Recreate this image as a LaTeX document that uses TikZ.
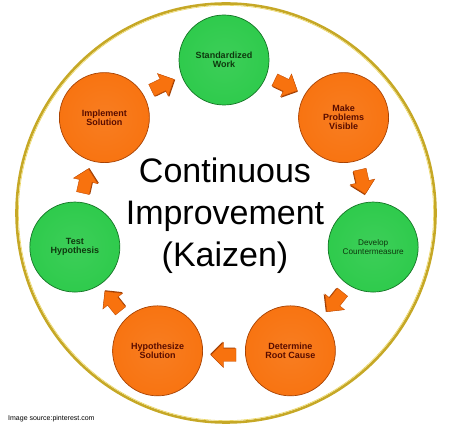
\documentclass[tikz,border=0pt]{standalone}
\usepackage{fontspec}
\setmainfont{Liberation Sans}
\usetikzlibrary{calc}
\definecolor{orangeC}{RGB}{248,114,14}
\definecolor{orangeD}{RGB}{196,78,4}
\definecolor{greenC}{RGB}{44,202,74}
\definecolor{greenD}{RGB}{24,138,44}
\definecolor{ringC}{RGB}{198,168,38}
\definecolor{ringL}{RGB}{236,214,96}
\definecolor{otext}{RGB}{88,12,0}
\definecolor{gtext}{RGB}{14,56,14}
\pgfdeclareradialshading{oshade}{\pgfpoint{0bp}{0bp}}{color(0bp)=(orangeC!92!white); color(30bp)=(orangeC); color(44bp)=(orangeC); color(50bp)=(orangeD)}
\pgfdeclareradialshading{gshade}{\pgfpoint{0bp}{0bp}}{color(0bp)=(greenC!92!white); color(30bp)=(greenC); color(44bp)=(greenC); color(50bp)=(greenD)}
\tikzset{
  disc/.style={circle, minimum size=90pt, inner sep=0pt, align=center, line width=0.7pt,
    font=\bfseries\fontsize{9}{9}\selectfont},
  odisc/.style={disc, shading=oshade, draw=orangeD!85!black, text=otext},
  gdisc/.style={disc, shading=gshade, draw=greenD!85!black, text=gtext},
  bigtext/.style={font=\fontsize{34}{42}\selectfont, anchor=base, inner sep=0pt},
  barrow/.pic={
    \fill[orangeD!80!black] (-11.2,-7.4)--(1.3,-7.4)--(1.3,-13.4)--(13.8,-0.8)--(1.3,11.6)--(1.3,5.6)--(-11.2,5.6)--cycle;
    \fill[orangeC, draw=orangeD, line width=0.4pt] (-12,-6.5)--(0.5,-6.5)--(0.5,-12.5)--(13,0)--(0.5,12.5)--(0.5,6.5)--(-12,6.5)--cycle;
  }
}
\begin{document}
\begin{tikzpicture}[x=1pt,y=1pt]
\useasboundingbox (0,0) rectangle (450,428);
\fill[white] (0,0) rectangle (450,428);
\node[circle, draw=ringC, line width=2.6pt, minimum size=419pt, inner sep=0pt] (ring) at (226,215) {};
\draw[ringL, line width=0.6pt] (226,215) circle (207.6);
\coordinate (C) at (224,215);
\node[gdisc] (s1) at ($(C)+(90:153)$) {Standardized\\Work};
\node[odisc] (s2) at ($(C)+(38.571:153)$) {Make\\Problems\\Visible};
\node[gdisc, font=\fontsize{8.2}{9}\selectfont] (s3) at ($(C)+(-12.857:153)$) {Develop\\Countermeasure};
\node[odisc] (s4) at ($(C)+(-64.286:153)$) {Determine\\Root Cause};
\node[odisc] (s5) at ($(C)+(-115.714:153)$) {Hypothesize\\Solution};
\node[gdisc] (s6) at ($(C)+(-167.143:153)$) {Test\\Hypothesis};
\node[odisc] (s7) at ($(C)+(141.429:153)$) {Implement\\Solution};
\foreach \a in {64.286,12.857,-38.571,-90,-141.429,-192.857,-244.286}{
  \path ($(C)+(\a:142)$) pic[rotate=\a-90] {barrow};
}
\node[bigtext] (t1) at (225,245) {Continuous};
\node[bigtext] (t2) at (225,203) {Improvement};
\node[bigtext] (t3) at (225,161) {(Kaizen)};
\node[anchor=base west, inner sep=0pt, font=\fontsize{7}{8}\selectfont] (src) at (8,7) {Image source:pinterest.com};
\end{tikzpicture}
\end{document}
